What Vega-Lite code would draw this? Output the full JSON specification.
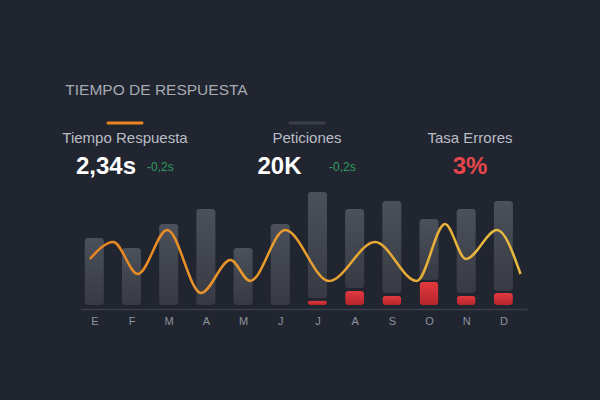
{
  "$schema": "https://vega.github.io/schema/vega-lite/v6.json",
  "autosize": "none",
  "width": 447,
  "height": 195,
  "padding": {"left": 80, "top": 110, "right": 73, "bottom": 95},
  "background": "#212530",
  "config": {
    "view": {"stroke": null},
    "font": "Liberation Sans"
  },
  "title": {
    "text": "TIEMPO DE RESPUESTA",
    "anchor": "start",
    "dx": 3,
    "offset": 0,
    "baseline": "alphabetic",
    "fontSize": 15.5,
    "fontWeight": "normal",
    "color": "#a6aab3",
    "font": "Liberation Sans"
  },
  "datasets": {
    "months": [
      {"m": 1, "base": 0, "top": 67, "err": 0},
      {"m": 2, "base": 0, "top": 57, "err": 0},
      {"m": 3, "base": 0, "top": 81, "err": 0},
      {"m": 4, "base": 0, "top": 96, "err": 0},
      {"m": 5, "base": 0, "top": 57, "err": 0},
      {"m": 6, "base": 0, "top": 81, "err": 0},
      {"m": 7, "base": 7, "top": 113, "err": 4.5},
      {"m": 8, "base": 17, "top": 96, "err": 14},
      {"m": 9, "base": 12, "top": 104, "err": 9},
      {"m": 10, "base": 25, "top": 86, "err": 23},
      {"m": 11, "base": 12, "top": 96, "err": 9},
      {"m": 12, "base": 14, "top": 104, "err": 12}
    ],
    "line": [
      {"m": 0.88, "v": 46},
      {"m": 1.51, "v": 63},
      {"m": 2.17, "v": 31},
      {"m": 2.96, "v": 75},
      {"m": 3.87, "v": 12},
      {"m": 4.66, "v": 45},
      {"m": 5.19, "v": 24},
      {"m": 6.13, "v": 75},
      {"m": 7.31, "v": 24},
      {"m": 8.55, "v": 63},
      {"m": 9.67, "v": 24},
      {"m": 10.43, "v": 81},
      {"m": 10.99, "v": 46},
      {"m": 11.83, "v": 75},
      {"m": 12.46, "v": 31}
    ],
    "kpis": [
      {"kpi": "Tiempo Respuesta", "value": "2,34s", "delta": "-0,2s"},
      {"kpi": "Peticiones", "value": "20K", "delta": "-0,2s"},
      {"kpi": "Tasa Errores", "value": "3%", "delta": ""}
    ]
  },
  "resolve": {"scale": {"x": "independent"}},
  "layer": [
    {
      "layer": [
        {
          "data": {"name": "months"},
          "mark": {
            "type": "bar",
            "size": 19,
            "cornerRadius": 3,
            "fill": {
              "gradient": "linear",
              "x1": 0, "y1": 0, "x2": 0, "y2": 1,
              "stops": [
                {"offset": 0, "color": "#4b505a"},
                {"offset": 1, "color": "#373a42"}
              ]
            }
          },
          "encoding": {
            "x": {
              "field": "m",
              "type": "quantitative",
              "scale": {"domain": [0.75, 12.5], "nice": false, "zero": false},
              "axis": {
                "values": [1, 2, 3, 4, 5, 6, 7, 8, 9, 10, 11, 12],
                "labelExpr": "['E','F','M','A','M','J','J','A','S','O','N','D'][datum.value - 1]",
                "title": null,
                "grid": false,
                "ticks": false,
                "offset": 4,
                "domainColor": "#3a3e49",
                "domainWidth": 1.5,
                "labelPadding": 6,
                "labelColor": "#8e939c",
                "labelFontSize": 11,
                "labelFont": "Liberation Sans"
              }
            },
            "y": {
              "field": "base",
              "type": "quantitative",
              "scale": {"domain": [0, 195], "nice": false},
              "axis": null
            },
            "y2": {"field": "top"}
          }
        },
        {
          "data": {"name": "months"},
          "transform": [{"filter": "datum.err > 0"}],
          "mark": {
            "type": "bar",
            "size": 19,
            "cornerRadius": 3,
            "fill": {
              "gradient": "linear",
              "x1": 0, "y1": 0, "x2": 0, "y2": 1,
              "stops": [
                {"offset": 0, "color": "#e2393f"},
                {"offset": 1, "color": "#b5252c"}
              ]
            }
          },
          "encoding": {
            "x": {"field": "m", "type": "quantitative"},
            "y": {"field": "err", "type": "quantitative"}
          }
        },
        {
          "data": {"name": "line"},
          "mark": {
            "type": "line",
            "interpolate": "monotone",
            "strokeWidth": 2.5,
            "color": {
              "gradient": "linear",
              "x1": 0, "y1": 0, "x2": 1, "y2": 0,
              "stops": [
                {"offset": 0, "color": "#ea8420"},
                {"offset": 1, "color": "#e6bb40"}
              ]
            }
          },
          "encoding": {
            "x": {"field": "m", "type": "quantitative"},
            "y": {"field": "v", "type": "quantitative"}
          }
        }
      ]
    },
    {
      "data": {"name": "kpis"},
      "encoding": {
        "x": {
          "field": "kpi",
          "type": "nominal",
          "scale": {
            "type": "point",
            "domain": ["Tiempo Respuesta", "Peticiones", "Tasa Errores"],
            "range": [45, 390],
            "padding": 0
          },
          "axis": null
        }
      },
      "layer": [
        {
          "transform": [{"filter": "datum.kpi != 'Tasa Errores'"}],
          "mark": {"type": "tick", "size": 37, "thickness": 3, "cornerRadius": 1.5, "opacity": 1,
                   "xOffset": {"expr": "datum.kpi == 'Peticiones' ? 9.5 : 0"}},
          "encoding": {
            "y": {"datum": 182, "type": "quantitative"},
            "color": {
              "field": "kpi",
              "type": "nominal",
              "scale": {"domain": ["Tiempo Respuesta", "Peticiones"], "range": ["#ea8420", "#3b3f4a"]},
              "legend": null
            }
          }
        },
        {
          "mark": {"type": "text", "fontSize": 15, "color": "#b9bdc5", "align": "center", "baseline": "middle",
                   "dx": {"expr": "datum.kpi == 'Peticiones' ? 9.5 : 0"}},
          "encoding": {
            "y": {"datum": 167, "type": "quantitative"},
            "text": {"field": "kpi"}
          }
        },
        {
          "transform": [{"filter": "datum.kpi != 'Tasa Errores'"}],
          "mark": {"type": "text", "fontSize": 24, "fontWeight": "bold", "color": "#ffffff", "align": "left", "baseline": "middle",
                   "dx": {"expr": "datum.kpi == 'Peticiones' ? -40 : -49"}},
          "encoding": {
            "y": {"datum": 138, "type": "quantitative"},
            "text": {"field": "value"}
          }
        },
        {
          "transform": [{"filter": "datum.delta != ''"}],
          "mark": {"type": "text", "fontSize": 12, "color": "#2f9e5f", "align": "left", "baseline": "middle",
                   "dx": {"expr": "datum.kpi == 'Peticiones' ? 31.5 : 22"}},
          "encoding": {
            "y": {"datum": 138, "type": "quantitative"},
            "text": {"field": "delta"}
          }
        },
        {
          "transform": [{"filter": "datum.kpi == 'Tasa Errores'"}],
          "mark": {"type": "text", "fontSize": 24, "fontWeight": "bold", "color": "#e5454c", "align": "center", "baseline": "middle"},
          "encoding": {
            "y": {"datum": 138, "type": "quantitative"},
            "text": {"field": "value"}
          }
        }
      ]
    }
  ]
}
